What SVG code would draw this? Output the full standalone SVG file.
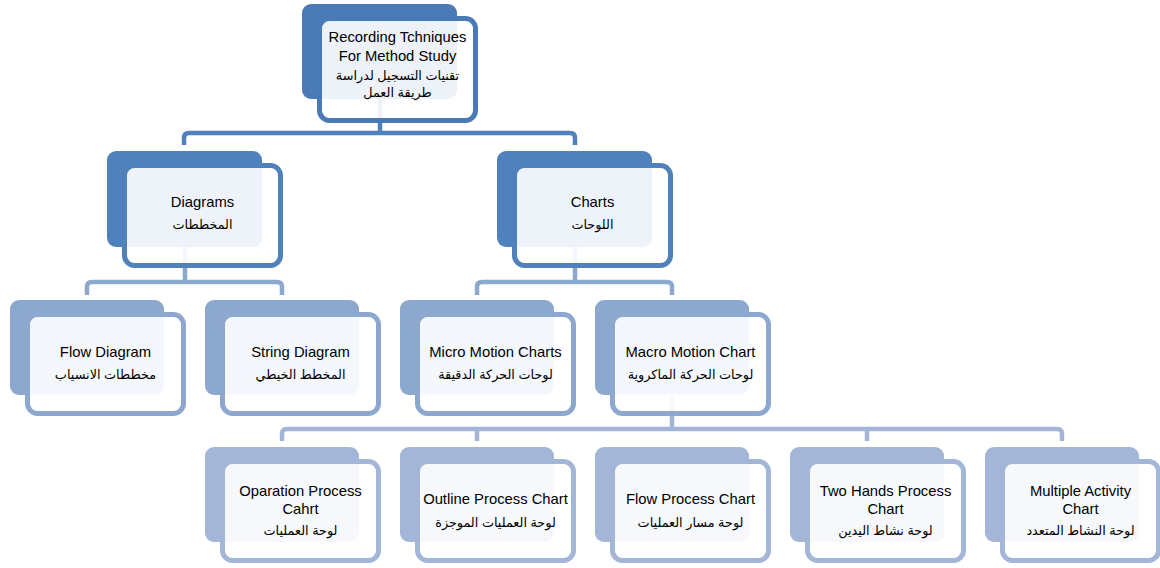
<svg xmlns="http://www.w3.org/2000/svg" width="1160" height="568" viewBox="0 0 1160 568">
<style>
.bg{fill:#ffffff}
.back{stroke:none}
.front{fill:#ffffff;fill-opacity:0.9;stroke-width:5}
.l0 .back{fill:#4A7AB6}.l0 .front{stroke:#4A7AB6}
.l1 .back{fill:#4F81BD}.l1 .front{stroke:#4F81BD}
.l2 .back{fill:#8DA8CF}.l2 .front{stroke:#8DA8CF}
.l3 .back{fill:#A3B6D7}.l3 .front{stroke:#A3B6D7}
.c{fill:none;stroke-width:4.5;stroke-linejoin:round}
.c1{stroke:#4F81BD}.c2{stroke:#8DA8CF}.c3{stroke:#A3B6D7}
text{font-family:"Liberation Sans","DejaVu Sans",sans-serif;font-size:14.8px;fill:#000;text-anchor:middle}
text.ar{font-size:12.8px}
</style>
<rect class="bg" x="0" y="0" width="1160" height="568"/>
<g id="connectors">
<path class="c c1" d="M380,99 V133 M184,145 V138 Q184,133 189,133 H570 Q575,133 575,138 V145"/>
<path class="c c2" d="M185,247 V282 M87,295 V287 Q87,282 92,282 H277 Q282,282 282,287 V295"/>
<path class="c c2" d="M575,247 V282 M477,295 V287 Q477,282 482,282 H667 Q672,282 672,287 V295"/>
<path class="c c3" d="M672,395 V429 M282,441 V434 Q282,429 287,429 H1057 Q1062,429 1062,434 V441 M477,429 V441 M867,429 V441"/>
</g>
<g id="root" class="l0">
<rect class="back" x="302" y="4" width="155" height="95" rx="9"/>
<rect class="front" x="319.5" y="18.5" width="156" height="102" rx="10"/>
<text x="397.5" y="42">Recording Tchniques</text>
<text x="397.5" y="61">For Method Study</text>
<text class="ar" x="397.5" y="80">تقنيات التسجيل لدراسة</text>
<text class="ar" x="397.5" y="97">طريقة العمل</text>
</g>
<g id="diagrams" class="l1">
<rect class="back" x="107" y="151" width="155" height="96" rx="9"/>
<rect class="front" x="124.5" y="165.5" width="156" height="100" rx="10"/>
<text x="202.5" y="207">Diagrams</text>
<text class="ar" x="202.5" y="229">المخططات</text>
</g>
<g id="charts" class="l1">
<rect class="back" x="497" y="151" width="155" height="96" rx="9"/>
<rect class="front" x="514.5" y="165.5" width="156" height="100" rx="10"/>
<text x="592.5" y="207">Charts</text>
<text class="ar" x="592.5" y="229">اللوحات</text>
</g>
<g id="flow-diagram" class="l2">
<rect class="back" x="10" y="300" width="154" height="95" rx="9"/>
<rect class="front" x="27.5" y="314.5" width="156" height="99" rx="10"/>
<text x="105.5" y="357">Flow Diagram</text>
<text class="ar" x="105.5" y="379">مخططات الانسياب</text>
</g>
<g id="string-diagram" class="l2">
<rect class="back" x="205" y="300" width="154" height="95" rx="9"/>
<rect class="front" x="222.5" y="314.5" width="156" height="99" rx="10"/>
<text x="300.5" y="357">String Diagram</text>
<text class="ar" x="300.5" y="379">المخطط الخيطي</text>
</g>
<g id="micro-motion" class="l2">
<rect class="back" x="400" y="300" width="154" height="95" rx="9"/>
<rect class="front" x="417.5" y="314.5" width="156" height="99" rx="10"/>
<text x="495.5" y="357">Micro Motion Charts</text>
<text class="ar" x="495.5" y="379">لوحات الحركة الدقيقة</text>
</g>
<g id="macro-motion" class="l2">
<rect class="back" x="595" y="300" width="154" height="95" rx="9"/>
<rect class="front" x="612.5" y="314.5" width="156" height="99" rx="10"/>
<text x="690.5" y="357">Macro Motion Chart</text>
<text class="ar" x="690.5" y="379">لوحات الحركة الماكروية</text>
</g>
<g id="operation-process" class="l3">
<rect class="back" x="205" y="447" width="154" height="95" rx="9"/>
<rect class="front" x="222.5" y="461.5" width="156" height="99" rx="10"/>
<text x="300.5" y="496">Oparation Process</text>
<text x="300.5" y="514">Cahrt</text>
<text class="ar" x="300.5" y="535">لوحة العمليات</text>
</g>
<g id="outline-process" class="l3">
<rect class="back" x="400" y="447" width="154" height="95" rx="9"/>
<rect class="front" x="417.5" y="461.5" width="156" height="99" rx="10"/>
<text x="495.5" y="504">Outline Process Chart</text>
<text class="ar" x="495.5" y="527">لوحة العمليات الموجزة</text>
</g>
<g id="flow-process" class="l3">
<rect class="back" x="595" y="447" width="154" height="95" rx="9"/>
<rect class="front" x="612.5" y="461.5" width="156" height="99" rx="10"/>
<text x="690.5" y="504">Flow Process Chart</text>
<text class="ar" x="690.5" y="527">لوحة مسار العمليات</text>
</g>
<g id="two-hands" class="l3">
<rect class="back" x="790" y="447" width="154" height="95" rx="9"/>
<rect class="front" x="807.5" y="461.5" width="156" height="99" rx="10"/>
<text x="885.5" y="496">Two Hands Process</text>
<text x="885.5" y="514">Chart</text>
<text class="ar" x="885.5" y="535">لوحة نشاط اليدين</text>
</g>
<g id="multiple-activity" class="l3">
<rect class="back" x="985" y="447" width="154" height="95" rx="9"/>
<rect class="front" x="1002.5" y="461.5" width="156" height="99" rx="10"/>
<text x="1080.5" y="496">Multiple Activity</text>
<text x="1080.5" y="514">Chart</text>
<text class="ar" x="1080.5" y="535">لوحة النشاط المتعدد</text>
</g>
</svg>
